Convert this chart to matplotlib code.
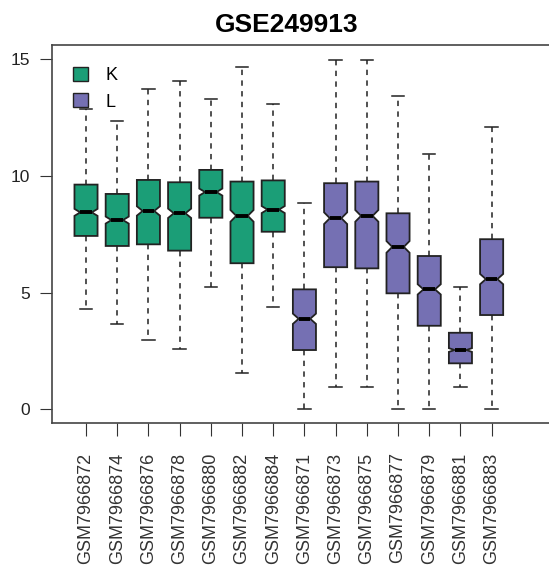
import matplotlib.pyplot as plt
from matplotlib.patches import Patch

plt.rcParams['font.family'] = ['Liberation Sans', 'DejaVu Sans']

samples = ['GSM7966872', 'GSM7966874', 'GSM7966876', 'GSM7966878', 'GSM7966880',
           'GSM7966882', 'GSM7966884', 'GSM7966871', 'GSM7966873', 'GSM7966875',
           'GSM7966877', 'GSM7966879', 'GSM7966881', 'GSM7966883']
groups = ['K'] * 7 + ['L'] * 7

whis_lo = [4.3, 3.66, 2.97, 2.57, 5.26, 1.57, 4.37, 0.0, 0.97, 0.97, 0.0, 0.0, 0.97, 0.0]
q1 = [7.43, 7.0, 7.07, 6.8, 8.21, 6.26, 7.61, 2.54, 6.09, 6.04, 4.97, 3.58, 1.97, 4.04]
med = [8.44, 8.11, 8.5, 8.4, 9.31, 8.29, 8.56, 3.88, 8.19, 8.29, 6.96, 5.14, 2.54, 5.58]
q3 = [9.63, 9.23, 9.83, 9.73, 10.26, 9.76, 9.81, 5.14, 9.69, 9.76, 8.4, 6.57, 3.28, 7.29]
whis_hi = [12.87, 12.36, 13.71, 14.07, 13.29, 14.66, 13.07, 8.86, 14.98, 14.98, 13.43, 10.94, 5.26, 12.09]
notch = [0.15, 0.15, 0.2, 0.2, 0.15, 0.25, 0.15, 0.22, 0.25, 0.25, 0.25, 0.22, 0.08, 0.22]

colors = {'K': '#1b9e77', 'L': '#7570b3'}

fig = plt.figure(figsize=(5.49, 5.76), dpi=100)
ax = fig.add_axes([52 / 549, 1 - 423.3 / 576, (576.5 - 52) / 549, (423.3 - 45.3) / 576])

stats = []
for i in range(len(samples)):
    stats.append(dict(med=med[i], q1=q1[i], q3=q3[i], whislo=whis_lo[i], whishi=whis_hi[i],
                      cilo=med[i] - notch[i], cihi=med[i] + notch[i], fliers=[], label=samples[i]))

pos = list(range(1, len(samples) + 1))
bp = ax.bxp(stats, positions=pos, widths=0.74, capwidths=0.4, shownotches=True,
            patch_artist=True, showfliers=False,
            boxprops=dict(edgecolor='#222222', linewidth=1.3),
            medianprops=dict(color='black', linewidth=2.8, solid_capstyle='butt'),
            whiskerprops=dict(color='#222222', linewidth=1.1, linestyle=(0, (3.5, 3.5))),
            capprops=dict(color='#222222', linewidth=1.1))
for box, g in zip(bp['boxes'], groups):
    box.set_facecolor(colors[g])

ax.set_xlim(-0.09, 16.72)
ax.set_ylim(-0.6, 15.6)
ax.set_yticks([0, 5, 10, 15])
ax.set_xticks(pos)
ax.set_xticklabels(samples, rotation=90, fontsize=13, color='#222222')
ax.tick_params(axis='y', labelsize=12.5, length=9, pad=7, colors='#333333', labelcolor='#222222')
ax.tick_params(axis='x', length=9, pad=12, colors='#333333')
for s in ['left', 'top', 'bottom']:
    ax.spines[s].set_color('#444444')
    ax.spines[s].set_linewidth(1.2)
ax.spines['right'].set_visible(False)

handles = [Patch(facecolor=colors[k], edgecolor='#222222', label=k) for k in ['K', 'L']]
ax.legend(handles=handles, loc='upper left', bbox_to_anchor=(0.01, 0.985), frameon=False,
          fontsize=13, handlelength=0.8, handleheight=0.8, handletextpad=1.0, labelspacing=0.5)

fig.text(287 / 549, 1 - 25 / 576, 'GSE249913', ha='center', va='center',
         fontsize=19, fontweight='bold')

fig.savefig('out.png', dpi=100)
